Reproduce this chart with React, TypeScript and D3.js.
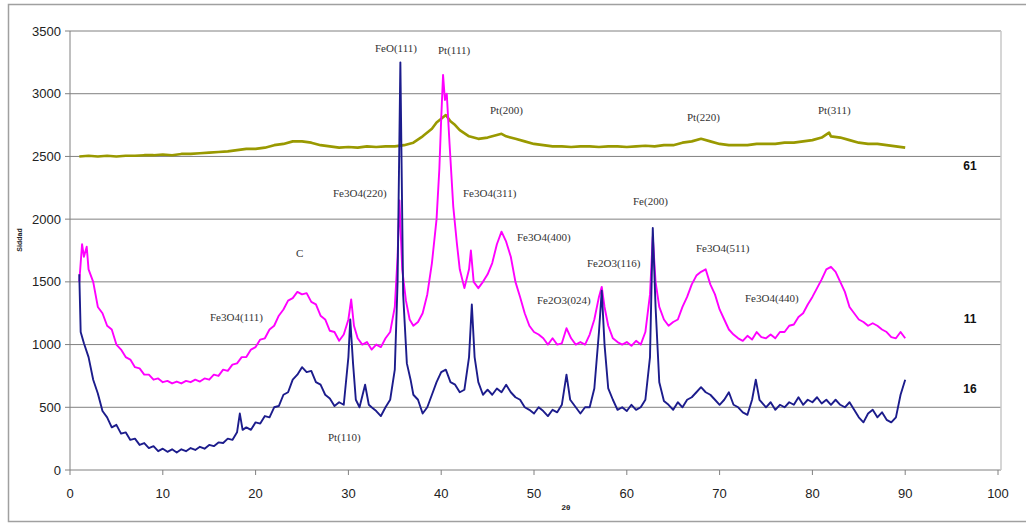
import React from "react";
import * as d3 from "d3";

const xTicks = [0, 10, 20, 30, 40, 50, 60, 70, 80, 90, 100];
const yTicks = [0, 500, 1000, 1500, 2000, 2500, 3000, 3500];

const series16: [number, number][] = [
  [1.0, 1560], [1.15, 1100], [1.5, 1010], [2.0, 900], [2.5, 720], [3.0, 610], [3.5, 470], [4.0, 420], [4.5, 340], [5.0, 360],
  [5.5, 290], [6.0, 300], [6.5, 240], [7.0, 250], [7.5, 200], [8.0, 215], [8.5, 175], [9.0, 190], [9.5, 150], [10.0, 170],
  [10.5, 145], [11.0, 165], [11.5, 140], [12.0, 165], [12.5, 150], [13.0, 175], [13.5, 160], [14.0, 185], [14.5, 170], [15.0, 200],
  [15.5, 190], [16.0, 220], [16.5, 215], [17.0, 250], [17.5, 240], [18.0, 300], [18.3, 450], [18.6, 320], [19.0, 340], [19.5, 320],
  [20.0, 380], [20.5, 370], [21.0, 430], [21.5, 420], [22.0, 500], [22.5, 510], [23.0, 600], [23.5, 620], [24.0, 720], [24.5, 760],
  [25.0, 820], [25.5, 780], [26.0, 790], [26.5, 700], [27.0, 680], [27.5, 600], [28.0, 570], [28.5, 510], [29.0, 540], [29.5, 520],
  [30.0, 900], [30.2, 1200], [30.5, 850], [30.8, 560], [31.2, 500], [31.8, 680], [32.2, 520], [32.5, 500], [33.0, 470], [33.5, 430],
  [34.0, 500], [34.5, 560], [35.0, 800], [35.3, 1500], [35.6, 3250], [35.9, 1400], [36.3, 850], [36.7, 720], [37.0, 600], [37.5, 560],
  [38.0, 450], [38.5, 500], [39.0, 600], [39.5, 700], [40.0, 780], [40.5, 800], [41.0, 700], [41.5, 680], [42.0, 620], [42.5, 640],
  [43.0, 900], [43.3, 1320], [43.6, 900], [44.0, 700], [44.5, 600], [45.0, 640], [45.5, 600], [46.0, 650], [46.5, 620], [47.0, 680],
  [47.5, 620], [48.0, 580], [48.5, 560], [49.0, 500], [49.5, 480], [50.0, 450], [50.5, 500], [51.0, 470], [51.5, 430], [52.0, 480],
  [52.5, 460], [53.0, 520], [53.5, 760], [53.9, 560], [54.5, 500], [55.0, 450], [55.5, 500], [56.0, 500], [56.5, 650], [57.0, 1100],
  [57.3, 1430], [57.6, 1000], [58.0, 650], [58.5, 560], [59.0, 480], [59.5, 500], [60.0, 470], [60.5, 520], [61.0, 480], [61.5, 500],
  [62.0, 560], [62.5, 900], [62.8, 1930], [63.1, 1300], [63.5, 700], [64.0, 550], [64.5, 520], [65.0, 480], [65.5, 540], [66.0, 500],
  [66.5, 560], [67.0, 580], [67.5, 620], [68.0, 660], [68.5, 620], [69.0, 600], [69.5, 560], [70.0, 520], [70.5, 560], [71.0, 620],
  [71.5, 520], [72.0, 500], [72.5, 460], [73.0, 440], [73.5, 560], [73.9, 720], [74.3, 560], [75.0, 500], [75.5, 540], [76.0, 480],
  [76.5, 520], [77.0, 500], [77.5, 540], [78.0, 520], [78.5, 580], [79.0, 520], [79.5, 560], [80.0, 540], [80.5, 580], [81.0, 530],
  [81.5, 560], [82.0, 520], [82.5, 560], [83.0, 520], [83.5, 500], [84.0, 540], [84.5, 480], [85.0, 420], [85.5, 380], [86.0, 450],
  [86.5, 480], [87.0, 420], [87.5, 460], [88.0, 400], [88.5, 380], [89.0, 420], [89.5, 600], [90.0, 720],
];

const series11: [number, number][] = [
  [1.0, 1500], [1.3, 1800], [1.5, 1700], [1.8, 1780], [2.0, 1600], [2.5, 1500], [3.0, 1300], [3.5, 1250], [4.0, 1150], [4.5, 1120],
  [5.0, 1000], [5.5, 960], [6.0, 900], [6.5, 880], [7.0, 820], [7.5, 810], [8.0, 760], [8.5, 760], [9.0, 720], [9.5, 730],
  [10.0, 700], [10.5, 710], [11.0, 690], [11.5, 705], [12.0, 690], [12.5, 710], [13.0, 700], [13.5, 720], [14.0, 705], [14.5, 730],
  [15.0, 720], [15.5, 760], [16.0, 750], [16.5, 800], [17.0, 790], [17.5, 840], [18.0, 850], [18.5, 900], [19.0, 900], [19.5, 960],
  [20.0, 980], [20.5, 1040], [21.0, 1050], [21.5, 1120], [22.0, 1150], [22.5, 1230], [23.0, 1280], [23.5, 1350], [24.0, 1370], [24.5, 1420],
  [25.0, 1400], [25.5, 1410], [26.0, 1340], [26.5, 1320], [27.0, 1230], [27.5, 1200], [28.0, 1110], [28.5, 1100], [29.0, 1030], [29.5, 1080],
  [30.0, 1200], [30.3, 1360], [30.6, 1150], [31.0, 1050], [31.5, 1000], [32.0, 1020], [32.5, 960], [33.0, 1000], [33.5, 980], [34.0, 1050],
  [34.5, 1100], [35.0, 1300], [35.3, 1700], [35.5, 2150], [35.8, 1600], [36.2, 1350], [36.6, 1200], [37.0, 1150], [37.5, 1180], [38.0, 1250],
  [38.5, 1400], [39.0, 1650], [39.5, 2000], [39.8, 2400], [40.0, 2800], [40.2, 3150], [40.4, 2950], [40.6, 3000], [40.9, 2600], [41.3, 2100],
  [41.7, 1800], [42.0, 1600], [42.5, 1450], [43.0, 1600], [43.2, 1750], [43.5, 1500], [44.0, 1450], [44.5, 1500], [45.0, 1560], [45.5, 1650],
  [46.0, 1800], [46.5, 1900], [47.0, 1820], [47.5, 1700], [48.0, 1500], [48.5, 1380], [49.0, 1250], [49.5, 1150], [50.0, 1100], [50.5, 1080],
  [51.0, 1050], [51.5, 1000], [52.0, 1050], [52.5, 1000], [53.0, 1010], [53.5, 1130], [54.0, 1050], [54.5, 1000], [55.0, 1020], [55.5, 1000],
  [56.0, 1080], [56.5, 1200], [57.0, 1380], [57.3, 1460], [57.6, 1300], [58.0, 1150], [58.5, 1050], [59.0, 1020], [59.5, 1000], [60.0, 1020],
  [60.5, 990], [61.0, 1030], [61.5, 1000], [62.0, 1100], [62.5, 1400], [62.8, 1860], [63.1, 1500], [63.5, 1300], [64.0, 1200], [64.5, 1150],
  [65.0, 1180], [65.5, 1200], [66.0, 1300], [66.5, 1380], [67.0, 1480], [67.5, 1550], [68.0, 1580], [68.5, 1600], [69.0, 1480], [69.5, 1400],
  [70.0, 1280], [70.5, 1200], [71.0, 1120], [71.5, 1080], [72.0, 1050], [72.5, 1030], [73.0, 1070], [73.5, 1040], [74.0, 1100], [74.5, 1060],
  [75.0, 1050], [75.5, 1080], [76.0, 1050], [76.5, 1100], [77.0, 1100], [77.5, 1150], [78.0, 1160], [78.5, 1220], [79.0, 1250], [79.5, 1320],
  [80.0, 1380], [80.5, 1450], [81.0, 1520], [81.5, 1600], [82.0, 1620], [82.5, 1580], [83.0, 1500], [83.5, 1420], [84.0, 1300], [84.5, 1250],
  [85.0, 1200], [85.5, 1180], [86.0, 1150], [86.5, 1170], [87.0, 1150], [87.5, 1120], [88.0, 1100], [88.5, 1060], [89.0, 1050], [89.5, 1100],
  [90.0, 1050],
];

const series61: [number, number][] = [
  [1, 2500], [2, 2505], [3, 2500], [4, 2505], [5, 2500], [6, 2505], [7, 2505], [8, 2510], [9, 2510], [10, 2515],
  [11, 2510], [12, 2520], [13, 2520], [14, 2525], [15, 2530], [16, 2535], [17, 2540], [18, 2550], [19, 2560], [20, 2560],
  [21, 2570], [22, 2590], [23, 2600], [24, 2620], [25, 2620], [26, 2610], [27, 2590], [28, 2580], [29, 2570], [30, 2575],
  [31, 2570], [32, 2580], [33, 2575], [34, 2580], [35, 2580], [36, 2590], [37, 2610], [38, 2660], [39, 2720], [39.5, 2770],
  [40, 2800], [40.5, 2830], [41, 2780], [41.5, 2750], [42, 2710], [43, 2660], [44, 2640], [45, 2650], [46, 2670], [46.5, 2680],
  [47, 2660], [48, 2640], [49, 2620], [50, 2600], [51, 2590], [52, 2580], [53, 2580], [54, 2575], [55, 2580], [56, 2580],
  [57, 2575], [58, 2580], [59, 2580], [60, 2575], [61, 2580], [62, 2585], [63, 2580], [64, 2590], [65, 2590], [66, 2610],
  [67, 2620], [68, 2640], [69, 2620], [70, 2600], [71, 2590], [72, 2590], [73, 2590], [74, 2600], [75, 2600], [76, 2600],
  [77, 2610], [78, 2610], [79, 2620], [80, 2630], [81, 2650], [81.8, 2690], [82, 2660], [83, 2650], [84, 2630], [85, 2610],
  [86, 2600], [87, 2600], [88, 2590], [89, 2580], [90, 2570],
];

const seriesNames = ["61", "11", "16"];
const seriesColors = ["#999900", "#ff00ff", "#1c1c8c"];

// annotation labels: [text, left px x, baseline px y]
const annotations: [string, number, number][] = [
  ["FeO(111)", 375, 52],
  ["Pt(111)", 438, 54],
  ["Pt(200)", 490, 114],
  ["Fe3O4(220)", 333, 197],
  ["Fe3O4(311)", 463, 197],
  ["C", 296, 257],
  ["Fe3O4(111)", 210, 321],
  ["Pt(110)", 328, 441],
  ["Fe3O4(400)", 517, 241],
  ["Fe2O3(116)", 587, 267],
  ["Fe2O3(024)", 537, 304],
  ["Fe(200)", 633, 205],
  ["Fe3O4(511)", 696, 252],
  ["Fe3O4(440)", 745, 302],
  ["Pt(220)", 687, 121],
  ["Pt(311)", 818, 114],
];

export default function App() {
  const W = 1026, H = 524;
  const x = d3.scaleLinear().domain([0, 100]).range([70, 998]);
  const y = d3.scaleLinear().domain([0, 3500]).range([470, 31]);
  const line = d3.line<[number, number]>().x((d) => x(d[0])).y((d) => y(d[1]));
  const all = [series61, series11, series16];
  const labelY = [165, 318, 388];
  const font = "Liberation Sans, Arial, sans-serif";
  return (
    <svg width={W} height={H} style={{ position: "absolute", left: 0, top: 0, background: "#fff" }}>
      <rect x={8.5} y={4.5} width={1030} height={517} fill="#fff" stroke="#a0a0a0" strokeWidth={1.5} />
      {yTicks.map((t) => (
        <line key={"g" + t} x1={x(0)} x2={1001} y1={y(t)} y2={y(t)} stroke="#808080" strokeWidth={1} />
      ))}
      <line x1={1001} x2={1001} y1={y(3500)} y2={y(0)} stroke="#c8c8c8" strokeWidth={1.5} />
      <line x1={x(0)} x2={x(0)} y1={y(3500)} y2={y(0)} stroke="#808080" strokeWidth={1} />
      {yTicks.map((t) => (
        <g key={"yt" + t}>
          <line x1={x(0) - 5} x2={x(0)} y1={y(t)} y2={y(t)} stroke="#808080" />
          <text x={61} y={y(t) + 4.5} textAnchor="end" fontFamily={font} fontSize={13} fill="#222">{t}</text>
        </g>
      ))}
      {xTicks.map((t) => (
        <g key={"xt" + t}>
          <line x1={x(t)} x2={x(t)} y1={y(0)} y2={y(0) + 5} stroke="#808080" />
          <text x={x(t)} y={498} textAnchor="middle" fontFamily={font} fontSize={13} fill="#222">{t}</text>
        </g>
      ))}
      <text x={566} y={510} textAnchor="middle" fontFamily={font} fontSize={8} fontWeight="bold" fill="#222">2θ</text>
      <text transform="translate(22,240) rotate(-90)" textAnchor="middle" fontFamily={font} fontSize={7} fontWeight="bold" fill="#222">Siddad</text>
      {all.map((s, i) => (
        <path key={"s" + i} d={line(s) || ""} fill="none" stroke={seriesColors[i]} strokeWidth={i === 0 ? 2.6 : 1.9} strokeLinejoin="round" />
      ))}
      {seriesNames.map((n, i) => (
        <text key={"n" + n} x={970} y={labelY[i] + 4.5} textAnchor="middle" fontFamily={font} fontSize={12} fontWeight="bold" fill="#111">{n}</text>
      ))}
      {annotations.map(([t, ax, ay]) => (
        <text key={t} x={ax} y={ay} fontFamily="Liberation Serif, Times New Roman, serif" fontSize={11} fill="#333">{t}</text>
      ))}
    </svg>
  );
}
